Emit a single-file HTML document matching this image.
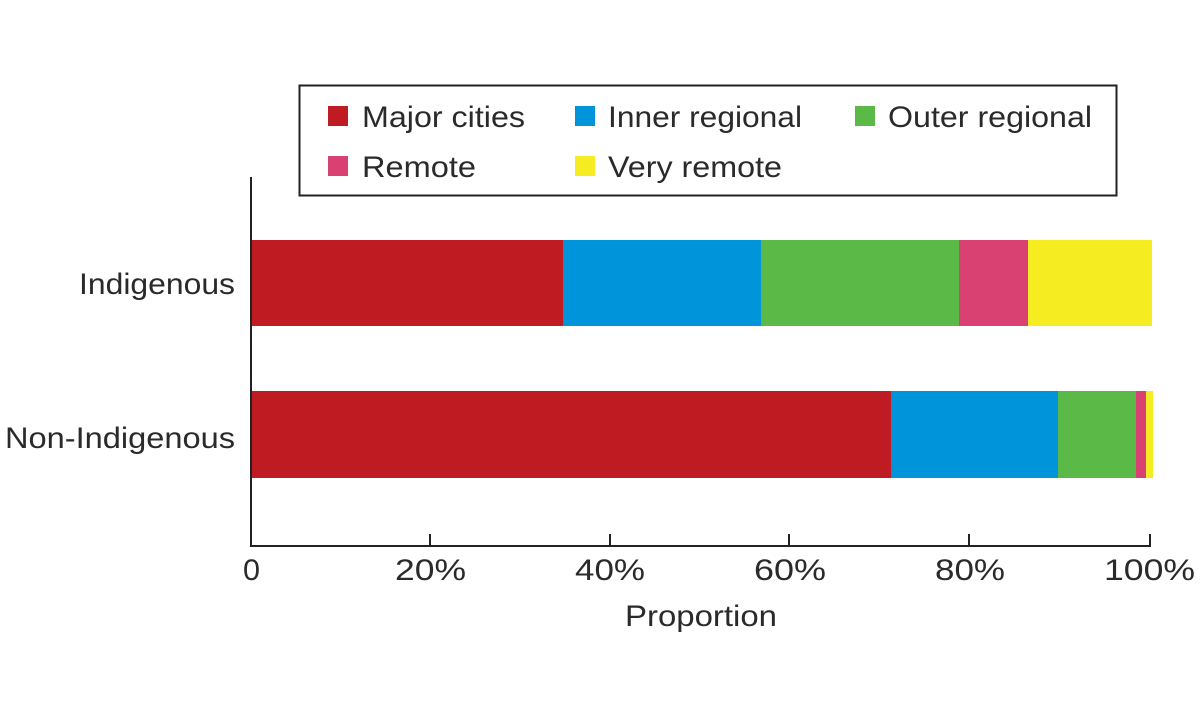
<!DOCTYPE html>
<html><head><style>body{margin:0;background:#fff}</style></head><body>
<svg width="1200" height="720" xmlns="http://www.w3.org/2000/svg" font-family="Liberation Sans, sans-serif" fill="#2a2a2a">
<rect x="299.5" y="85.5" width="817" height="110" fill="#fff" stroke="#222" stroke-width="2"/>
<g font-size="30" lengthAdjust="spacingAndGlyphs">
<rect x="328" y="106" width="20" height="20" fill="#be1b22"/><text x="362" y="127" textLength="163" lengthAdjust="spacingAndGlyphs">Major cities</text>
<rect x="575" y="106" width="20" height="20" fill="#0094da"/><text x="608" y="127" textLength="194" lengthAdjust="spacingAndGlyphs">Inner regional</text>
<rect x="855" y="106" width="20" height="20" fill="#5bba47"/><text x="888" y="127" textLength="204" lengthAdjust="spacingAndGlyphs">Outer regional</text>
<rect x="328" y="156" width="20" height="20" fill="#d94172"/><text x="362" y="177" textLength="114" lengthAdjust="spacingAndGlyphs">Remote</text>
<rect x="575" y="156" width="20" height="20" fill="#f6ec22"/><text x="608" y="177" textLength="174" lengthAdjust="spacingAndGlyphs">Very remote</text>
</g>
<rect x="251" y="240" width="312" height="86" fill="#be1b22"/>
<rect x="563" y="240" width="198" height="86" fill="#0094da"/>
<rect x="761" y="240" width="198" height="86" fill="#5bba47"/>
<rect x="959" y="240" width="69" height="86" fill="#d94172"/>
<rect x="1028" y="240" width="124" height="86" fill="#f6ec22"/>
<rect x="251" y="391" width="640" height="87" fill="#be1b22"/>
<rect x="891" y="391" width="167" height="87" fill="#0094da"/>
<rect x="1058" y="391" width="78" height="87" fill="#5bba47"/>
<rect x="1136" y="391" width="10" height="87" fill="#d94172"/>
<rect x="1146" y="391" width="7" height="87" fill="#f6ec22"/>
<path d="M251 177V546H1151M430 545V534M610 545V534M789 545V534M969 545V534M1150 545V534" stroke="#222" stroke-width="2" fill="none"/>
<g font-size="30">
<text x="243" y="580" textLength="17" lengthAdjust="spacingAndGlyphs">0</text>
<text x="395" y="580" textLength="71" lengthAdjust="spacingAndGlyphs">20%</text>
<text x="575" y="580" textLength="70" lengthAdjust="spacingAndGlyphs">40%</text>
<text x="754" y="580" textLength="72" lengthAdjust="spacingAndGlyphs">60%</text>
<text x="935" y="580" textLength="70" lengthAdjust="spacingAndGlyphs">80%</text>
<text x="1104" y="580" textLength="91" lengthAdjust="spacingAndGlyphs">100%</text>
<text x="625" y="626" textLength="152" lengthAdjust="spacingAndGlyphs">Proportion</text>
<text x="79" y="294" textLength="156" lengthAdjust="spacingAndGlyphs">Indigenous</text>
<text x="5" y="448" textLength="230" lengthAdjust="spacingAndGlyphs">Non-Indigenous</text>
</g>
</svg>
</body></html>
